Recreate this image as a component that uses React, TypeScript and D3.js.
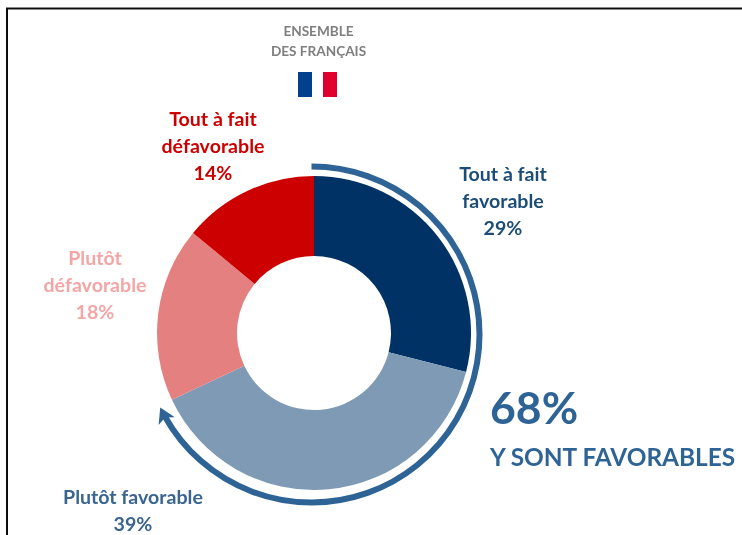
import React from "react";
import * as d3 from "d3";

const categories = ["Tout à fait favorable", "Plutôt favorable", "Plutôt défavorable", "Tout à fait défavorable"];
const values = [29, 39, 18, 14];
const colors = ["#003366", "#7F9AB5", "#E58080", "#CC0000"];
const favorableTotal = 68;

const W = 742, H = 535, cx = 314, cy = 333, rOuter = 157, rInner = 77;
const ringX = 311.5, ringY = 334.5, rArc = 168;
const FONT = "Lato, Carlito, 'Open Sans', sans-serif";

type L = { lines: string[]; x: number; y: number; color: string };
const labels: L[] = [
  { lines: ["Tout à fait", "favorable", `${values[0]}%`], x: 503, y: 181, color: "#1F4E79" },
  { lines: ["Plutôt favorable", `${values[1]}%`], x: 133, y: 504, color: "#3A6591" },
  { lines: ["Plutôt", "défavorable", `${values[2]}%`], x: 95, y: 265, color: "#F4A6A6" },
  { lines: ["Tout à fait", "défavorable", `${values[3]}%`], x: 213, y: 126, color: "#CC0000" },
];

export default function App() {
  const pie = d3.pie<number>().sort(null)(values);
  const arc = d3.arc<d3.PieArcDatum<number>>().innerRadius(rInner).outerRadius(rOuter);
  const angle = d3.scaleLinear().domain([0, 100]).range([0, 2 * Math.PI]);
  const tipA = angle(favorableTotal) - 0.01;
  const sweepEnd = tipA - 0.06;
  const sweep = d3.arc()({ innerRadius: rArc, outerRadius: rArc, startAngle: 0, endAngle: sweepEnd }) as string;
  const tip: [number, number] = [rArc * Math.sin(tipA), -rArc * Math.cos(tipA)];
  const tx = Math.cos(tipA), ty = Math.sin(tipA);
  const nx = -ty, ny = tx;
  const head = [
    tip,
    [tip[0] - tx * 15 + nx * 9, tip[1] - ty * 15 + ny * 9],
    [tip[0] - tx * 11, tip[1] - ty * 11],
    [tip[0] - tx * 15 - nx * 9, tip[1] - ty * 15 - ny * 9],
  ];
  return (
    <svg width={W} height={H} style={{ position: "absolute", left: 0, top: 0, background: "#fff" }} fontFamily={FONT}>
      <defs>
        <filter id="soft" x="-5%" y="-5%" width="110%" height="110%">
          <feGaussianBlur stdDeviation="0.45" />
        </filter>
      </defs>
      <g filter="url(#soft)">
        <path d="M7 535V8.5H742" fill="none" stroke="#111" strokeWidth={2} />
        <g transform={`translate(${cx},${cy})`}>
          {pie.map((d, i) => (
            <path key={categories[i]} d={arc(d) as string} fill={colors[i]} />
          ))}
        </g>
        <g transform={`translate(${ringX},${ringY})`}>
          <path d={sweep} fill="none" stroke="#2F6496" strokeWidth={6} />
          <polygon points={head.map((p) => p.join(",")).join(" ")} fill="#2F6496" />
        </g>
        <text textAnchor="middle" fontSize={13.6} fontWeight={700} fill="#7F7F7F">
          <tspan x={318.5} y={36}>ENSEMBLE</tspan>
          <tspan x={318.5} y={56}>DES FRANÇAIS</tspan>
        </text>
        <rect x={298} y={72} width={14} height={25} fill="#003F8C" />
        <rect x={323} y={72} width={14} height={25} fill="#E0002D" />
        {labels.map((l) => (
          <text key={l.lines.join()} textAnchor="middle" fontSize={19.6} fontWeight={700} fill={l.color}>
            {l.lines.map((t, j) => (
              <tspan key={j} x={l.x} y={l.y + j * 27}>{t}</tspan>
            ))}
          </text>
        ))}
        <text x={490} y={424} fontSize={44.5} fontWeight={700} fill="#2F6496">{favorableTotal}%</text>
        <text x={490} y={466} fontSize={24.4} fontWeight={700} fill="#2F6496">Y SONT FAVORABLES</text>
      </g>
    </svg>
  );
}
